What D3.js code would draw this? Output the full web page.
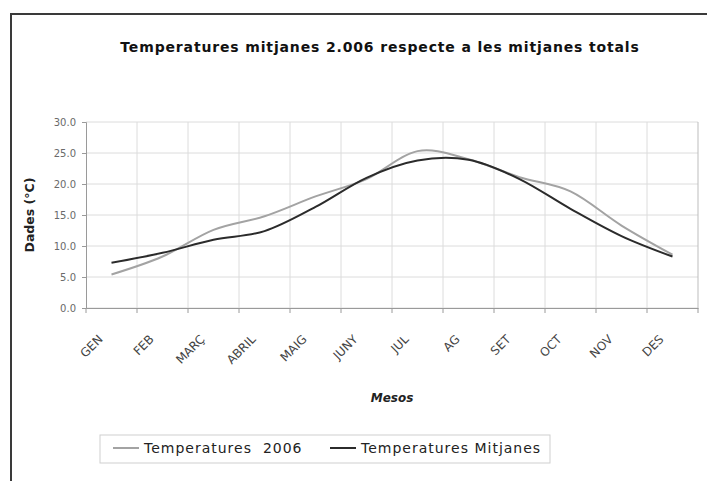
<!DOCTYPE html>
<html>
<head>
<meta charset="utf-8">
<script src="https://cdn.jsdelivr.net/npm/d3@7"></script>
<style>
  body { margin: 0; background: #fff; }
  #chart { width: 707px; height: 481px; }
  text { font-family: "Comic Sans MS", "DejaVu Sans", sans-serif; }
</style>
</head>
<body>
<div id="chart"></div>
<script>
// chart values
const months = ["GEN", "FEB", "MARÇ", "ABRIL", "MAIG", "JUNY", "JUL", "AG", "SET", "OCT", "NOV", "DES"];
const temp2006 = [5.4, 8.3, 12.6, 14.8, 18.0, 20.8, 25.3, 24.0, 21.1, 18.8, 13.3, 8.6];
const tempMitjanes = [7.3, 8.9, 11.0, 12.4, 16.3, 21.0, 23.8, 23.9, 20.8, 16.0, 11.6, 8.3];
const yTicks = [0, 5, 10, 15, 20, 25, 30];
const seriesNames = ["Temperatures  2006", "Temperatures Mitjanes"];
const seriesColors = ["#a3a3a3", "#2b2b2b"];

const width = 707;
const height = 481;
const margin = {top: 122, left: 86, right: 9, bottom: 173};

const svg = d3.select("#chart")
    .append("svg")
    .attr("width", width)
    .attr("height", height);

/*
OUTER FRAME
*/
svg.append("rect")
    .attr("x", 11)
    .attr("y", 14)
    .attr("width", width)
    .attr("height", height)
    .attr("fill", "none")
    .attr("stroke", "#3a3a3a")
    .attr("stroke-width", 2);

/*
SCALES
*/
const xScale = d3.scaleBand()
    .domain(months)
    .range([margin.left, width - margin.right])
    .padding(0);

const yScale = d3.scaleLinear()
    .domain([0, 30])
    .range([height - margin.bottom, margin.top]);

const xMid = function(m) { return xScale(m) + xScale.bandwidth() / 2; };

/*
GRID
*/
svg.append("g")
    .selectAll("line")
    .data(yTicks)
    .enter()
    .append("line")
        .attr("x1", margin.left)
        .attr("x2", width - margin.right)
        .attr("y1", function(d) { return yScale(d); })
        .attr("y2", function(d) { return yScale(d); })
        .attr("stroke", "#dcdcdc");

svg.append("g")
    .selectAll("line")
    .data(months.slice(1).concat(["end"]))
    .enter()
    .append("line")
        .attr("x1", function(d, i) { return xScale(months[0]) + (i + 1) * xScale.bandwidth(); })
        .attr("x2", function(d, i) { return xScale(months[0]) + (i + 1) * xScale.bandwidth(); })
        .attr("y1", yScale(30))
        .attr("y2", yScale(0))
        .attr("stroke", function(d) { return d === "end" ? "#bdbdbd" : "#dcdcdc"; });

/*
AXES
*/
const yAxis = svg.append("g")
    .attr("transform", `translate(${margin.left},0)`)
    .call(d3.axisLeft(yScale).tickValues(yTicks).tickFormat(d3.format(".1f")).tickSize(4).tickPadding(6));
yAxis.select(".domain").attr("stroke", "#9a9a9a");
yAxis.selectAll(".tick line").attr("stroke", "#9a9a9a");
yAxis.selectAll(".tick text")
    .attr("fill", "#6a6a6a")
    .style("font-family", "'DejaVu Sans', sans-serif")
    .style("font-size", "10px");

const xAxis = svg.append("g")
    .attr("transform", `translate(0,${yScale(0)})`)
    .call(d3.axisBottom(xScale).tickSize(0).tickFormat(""));
xAxis.select(".domain").attr("stroke", "#9a9a9a");

svg.append("g")
    .selectAll("line")
    .data(d3.range(months.length + 1))
    .enter()
    .append("line")
        .attr("x1", function(i) { return margin.left + i * xScale.bandwidth(); })
        .attr("x2", function(i) { return margin.left + i * xScale.bandwidth(); })
        .attr("y1", yScale(0))
        .attr("y2", yScale(0) + 5)
        .attr("stroke", "#9a9a9a");

// rotated month labels
svg.append("g")
    .selectAll("text")
    .data(months)
    .enter()
    .append("text")
        .attr("transform", function(d) { return `translate(${xMid(d) - 8},340) rotate(-45)`; })
        .attr("text-anchor", "end")
        .attr("fill", "#444")
        .style("font-size", "12px")
        .text(function(d) { return d; });

/*
LINES
*/
const line = d3.line()
    .x(function(d) { return xMid(d.m); })
    .y(function(d) { return yScale(d.v); })
    .curve(d3.curveCatmullRom.alpha(0));

[temp2006, tempMitjanes].forEach(function(vals, k) {
    svg.append("path")
        .datum(months.map(function(m, i) { return {m: m, v: vals[i]}; }))
        .attr("d", line)
        .attr("fill", "none")
        .attr("stroke", seriesColors[k])
        .attr("stroke-width", 2);
});

/*
TITLES
*/
svg.append("text")
    .attr("x", 380)
    .attr("y", 52)
    .attr("text-anchor", "middle")
    .attr("fill", "#111")
    .style("font-size", "14px")
    .style("font-weight", "bold")
    .style("letter-spacing", "0.85px")
    .text("Temperatures mitjanes 2.006 respecte a les mitjanes totals");

svg.append("text")
    .attr("x", (margin.left + width - margin.right) / 2)
    .attr("y", 402)
    .attr("text-anchor", "middle")
    .attr("fill", "#222")
    .style("font-size", "12px")
    .style("font-weight", "bold")
    .style("font-style", "italic")
    .text("Mesos");

svg.append("text")
    .attr("transform", `translate(34,${(yScale(0) + yScale(30)) / 2}) rotate(-90)`)
    .attr("text-anchor", "middle")
    .attr("fill", "#222")
    .style("font-size", "12.5px")
    .style("font-weight", "bold")
    .text("Dades (°C)");

/*
LEGEND
*/
const legend = svg.append("g");
legend.append("rect")
    .attr("x", 100)
    .attr("y", 435)
    .attr("width", 450)
    .attr("height", 28)
    .attr("fill", "#fff")
    .attr("stroke", "#cfcfcf");

const legendX = [113, 330];
seriesNames.forEach(function(name, k) {
    legend.append("line")
        .attr("x1", legendX[k])
        .attr("x2", legendX[k] + 26)
        .attr("y1", 448)
        .attr("y2", 448)
        .attr("stroke", seriesColors[k])
        .attr("stroke-width", 2);
    legend.append("text")
        .attr("x", legendX[k] + 31)
        .attr("y", 453)
        .attr("fill", "#222")
        .style("font-size", "14px")
        .style("letter-spacing", "1px")
        .style("white-space", "pre")
        .text(name);
});
</script>
</body>
</html>
